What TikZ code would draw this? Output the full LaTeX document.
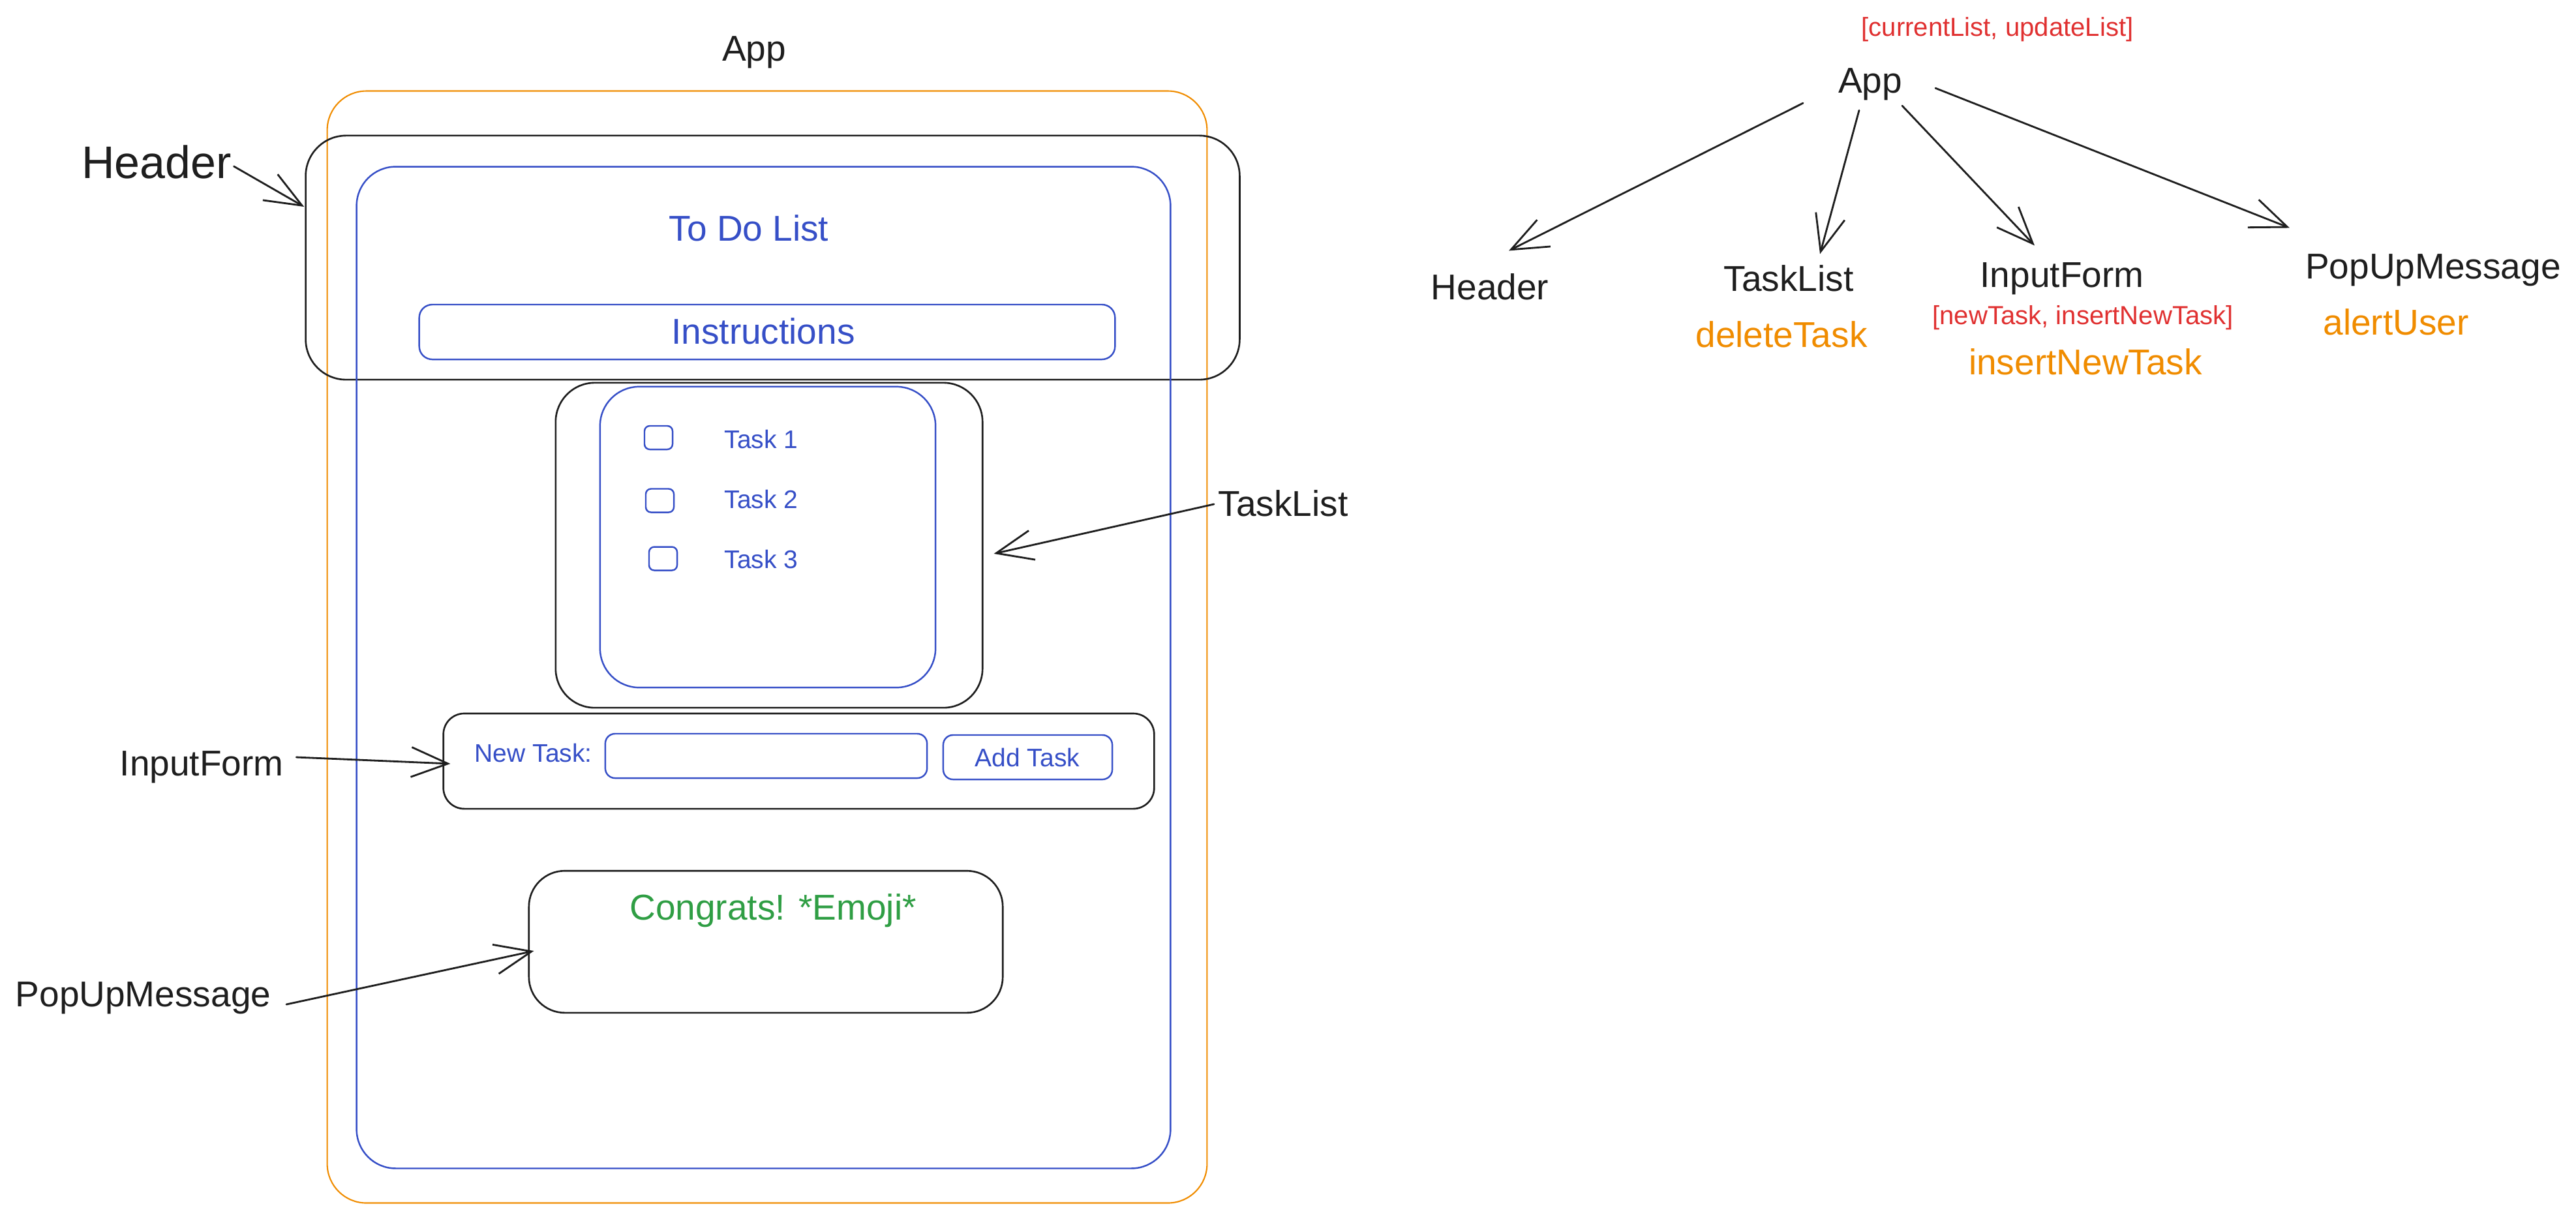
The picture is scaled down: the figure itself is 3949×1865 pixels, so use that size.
\documentclass[tikz,border=0pt]{standalone}
\usepackage{fontspec}
\setmainfont{Liberation Sans}
\usetikzlibrary{arrows.meta}
\definecolor{exblue}{HTML}{364FC7}
\definecolor{exorange}{HTML}{F08C00}
\definecolor{exred}{HTML}{E03131}
\definecolor{exgreen}{HTML}{2F9E44}
\definecolor{exblack}{HTML}{1E1E1E}
\begin{document}
\begin{tikzpicture}[x=0.01cm,y=-0.01cm,
  bbox/.style={draw=exblack, rectangle, inner sep=0pt, line width=0.75pt, line join=round},
  bluebox/.style={draw=exblue, rectangle, inner sep=0pt, line width=0.7pt, line join=round},
  orbox/.style={draw=exorange, rectangle, inner sep=0pt, line width=0.6pt, line join=round},
  big/.style={inner sep=0pt, font=\fontsize{15.65pt}{18pt}\selectfont},
  small/.style={inner sep=0pt, font=\fontsize{11.1pt}{13pt}\selectfont},
  redtxt/.style={inner sep=0pt, text=exred, font=\fontsize{11.4pt}{13pt}\selectfont},
  arr/.style={draw=exblack, line width=0.8pt, line cap=round,
    -{Straight Barb[length=16pt,width=13pt,line width=0.8pt]}}
]
\useasboundingbox (0,0) rectangle (3949,1865);

% ---------- left: wireframe ----------
\node[big, text=exblack, anchor=base] (appL) at (1156,93) {App};
\node[orbox, minimum width=13.48cm, minimum height=17.04cm, rounded corners=0.6cm] (appbox) at (1176,992) {};
\node[bbox, minimum width=14.31cm, minimum height=3.74cm, rounded corners=0.62cm] (hbox) at (1184.5,395) {};
\node[bluebox, minimum width=12.47cm, minimum height=15.35cm, rounded corners=0.6cm] (todobox) at (1170.5,1023.5) {};
\node[big, text=exblue, anchor=base] (todo) at (1148,369) {To Do List};
\node[bluebox, minimum width=10.66cm, minimum height=0.84cm, rounded corners=0.2cm] (instrbox) at (1176,509) {};
\node[big, text=exblue, anchor=base] (instr) at (1170,527) {Instructions};

\node[bbox, minimum width=6.54cm, minimum height=4.98cm, rounded corners=0.6cm] (tlbox) at (1179,836) {};
\node[bluebox, minimum width=5.14cm, minimum height=4.61cm, rounded corners=0.6cm] (tlinner) at (1177,823.5) {};
\node[bluebox, minimum width=0.43cm, minimum height=0.36cm, rounded corners=0.08cm] (cb1) at (1009.5,671) {};
\node[bluebox, minimum width=0.43cm, minimum height=0.36cm, rounded corners=0.08cm] (cb2) at (1011.5,767.5) {};
\node[bluebox, minimum width=0.43cm, minimum height=0.36cm, rounded corners=0.08cm] (cb3) at (1016.5,856.5) {};
\node[small, text=exblue, anchor=base west] (t1) at (1110,687) {Task 1};
\node[small, text=exblue, anchor=base west] (t2) at (1110,779) {Task 2};
\node[small, text=exblue, anchor=base west] (t3) at (1110,871) {Task 3};

\node[bbox, minimum width=10.89cm, minimum height=1.46cm, rounded corners=0.32cm] (ifbox) at (1224.5,1167) {};
\node[small, text=exblue, anchor=base west] (newtask) at (727,1168) {New Task:};
\node[bluebox, minimum width=4.93cm, minimum height=0.68cm, rounded corners=0.15cm] (field) at (1174.5,1159) {};
\node[bluebox, minimum width=2.59cm, minimum height=0.68cm, rounded corners=0.15cm] (addbtn) at (1575.5,1161) {};
\node[small, text=exblue, anchor=base] (addtxt) at (1575,1175) {Add Task};

\node[bbox, minimum width=7.26cm, minimum height=2.175cm, rounded corners=0.55cm] (popbox) at (1174,1444) {};
\node[big, text=exgreen, anchor=base] (congrats) at (1185,1410) {Congrats! *Emoji*};

% left labels
\node[inner sep=0pt, text=exblack, font=\fontsize{19.9pt}{23pt}\selectfont, anchor=base] (hdrL) at (240,273) {Header};
\node[big, text=exblack, anchor=base west] (tlL) at (1867,791) {TaskList};
\node[big, text=exblack, anchor=base west] (ifL) at (183,1189) {InputForm};
\node[big, text=exblack, anchor=base west] (popL) at (23,1543) {PopUpMessage};

\draw[arr] ([shift={(3,-18)}]hdrL.base east) -- ([shift={(-1,-78)}]hbox.west);
\draw[arr] ([shift={(-6,-18)}]tlL.base west) -- ([shift={(16,13)}]tlbox.east);
\draw[arr] ([shift={(19,-28)}]ifL.base east) -- ([shift={(12,4)}]ifbox.west);
\draw[arr] ([shift={(23,-3)}]popL.base east) -- ([shift={(9,14)}]popbox.west);

% ---------- right: component tree ----------
\node[redtxt, anchor=base] (state) at (3062,55) {[currentList, updateList]};
\node[big, text=exblack, anchor=base] (appR) at (2867,142) {App};
\node[big, text=exblack, anchor=base] (hdrR) at (2284,459) {Header};
\node[big, text=exblack, anchor=base] (tlR) at (2742,446) {TaskList};
\node[big, text=exblack, anchor=base] (ifR) at (3161,440) {InputForm};
\node[big, text=exblack, anchor=base] (popR) at (3730,427) {PopUpMessage};
\node[big, text=exorange, anchor=base] (del) at (2731,532) {deleteTask};
\node[redtxt, anchor=base] (ifstate) at (3193,497) {[newTask, insertNewTask]};
\node[big, text=exorange, anchor=base] (ins) at (3197,574) {insertNewTask};
\node[big, text=exorange, anchor=base] (alert) at (3673,513) {alertUser};

\draw[arr] ([shift={(-103,4)}]appR.south) -- ([shift={(29,-34)}]hdrR.north);
\draw[arr] ([shift={(-17,15)}]appR.south) -- ([shift={(48,-16)}]tlR.north);
\draw[arr] ([shift={(49,8)}]appR.south) -- ([shift={(-42,-25)}]ifR.north);
\draw[arr] ([shift={(100,-19)}]appR.south) -- ([shift={(-220,-39)}]popR.north);
\end{tikzpicture}
\end{document}
